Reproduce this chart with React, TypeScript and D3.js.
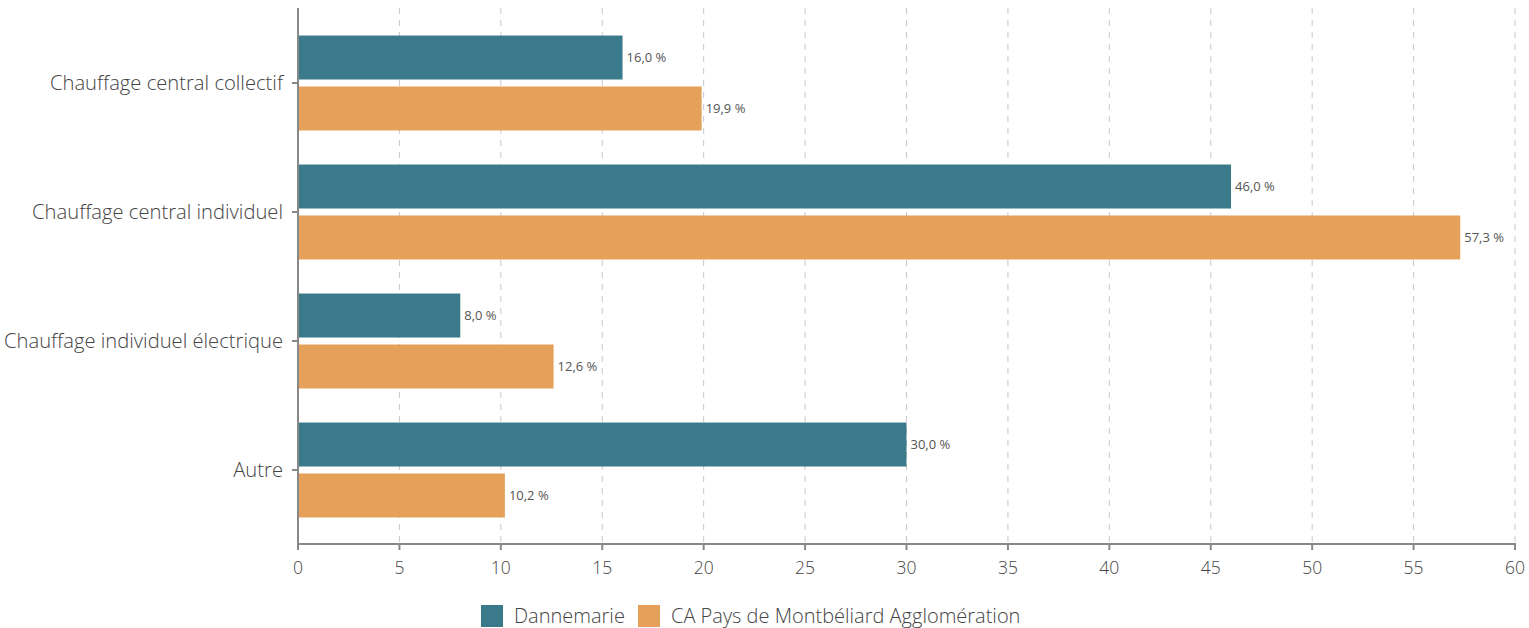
import React from "react";
import * as d3 from "d3";

const categories = [
  "Chauffage central collectif",
  "Chauffage central individuel",
  "Chauffage individuel électrique",
  "Autre",
];
const seriesNames = ["Dannemarie", "CA Pays de Montbéliard Agglomération"];
const dannemarie = [16.0, 46.0, 8.0, 30.0];
const capma = [19.9, 57.3, 12.6, 10.2];
const xTicks = [0, 5, 10, 15, 20, 25, 30, 35, 40, 45, 50, 55, 60];
const colors = ["#3A7A8A", "#E5A05A"];

const W = 1529;
const H = 628;
const FONT = "'Open Sans', 'Noto Sans', sans-serif";

export default function App() {
  const x = d3.scaleLinear().domain([0, 60]).range([298, 1515]);
  const y = d3
    .scaleBand<string>()
    .domain(categories)
    .range([18.5, 534.5])
    .paddingInner(0.264)
    .paddingOuter(0.132);
  const inner = d3
    .scaleBand<string>()
    .domain(seriesNames)
    .range([0, y.bandwidth()])
    .paddingInner(0.137)
    .paddingOuter(0);
  const seriesValues = [dannemarie, capma];
  const fmt = (v: number) => d3.format(".1f")(v).replace(".", ",") + " %";
  const axisY = 544;
  const topY = 8;

  return (
    <svg width={W} height={H} style={{ position: "absolute", left: 0, top: 0 }}>
      {xTicks.slice(1).map((t) => (
        <line
          key={"g" + t}
          x1={x(t)}
          x2={x(t)}
          y1={topY}
          y2={axisY}
          stroke="#c8c8c8"
          strokeWidth={1}
          strokeDasharray="6,6"
        />
      ))}
      {categories.map((c, ci) =>
        seriesNames.map((s, si) => {
          const v = seriesValues[si][ci];
          const by = (y(c) as number) + (inner(s) as number);
          const bh = inner.bandwidth();
          return (
            <g key={c + s}>
              <rect x={x(0)} y={by} width={x(v) - x(0)} height={bh} fill={colors[si]} />
              <text
                x={x(v) + 4}
                y={by + bh / 2}
                dy="0.35em"
                fontSize={13}
                fontWeight={400}
                fill="#555"
                fontFamily={FONT}
              >
                {fmt(v)}
              </text>
            </g>
          );
        })
      )}
      <line x1={x(0)} x2={x(0)} y1={topY} y2={axisY} stroke="#888" strokeWidth={2} />
      {categories.map((c) => {
        const cy = (y(c) as number) + y.bandwidth() / 2;
        return (
          <g key={"yl" + c}>
            <line x1={x(0) - 6} x2={x(0)} y1={cy} y2={cy} stroke="#888" strokeWidth={2} />
            <text
              x={283}
              y={cy}
              dy="0.35em"
              textAnchor="end"
              fontSize={20.2}
              fontWeight={300}
              fill="#444"
              fontFamily={FONT}
            >
              {c}
            </text>
          </g>
        );
      })}
      <line x1={x(0) - 1} x2={x(60) + 1} y1={axisY} y2={axisY} stroke="#888" strokeWidth={2} />
      {xTicks.map((t) => (
        <g key={"xt" + t}>
          <line x1={x(t)} x2={x(t)} y1={axisY} y2={axisY + 6} stroke="#888" strokeWidth={2} />
          <text
            x={x(t)}
            y={574}
            textAnchor="middle"
            fontSize={17.5}
            fontWeight={300}
            fill="#444"
            fontFamily={FONT}
          >
            {t}
          </text>
        </g>
      ))}
      <rect x={481} y={605} width={22} height={22} fill={colors[0]} />
      <text x={514} y={616} dy="0.35em" fontSize={20} fontWeight={300} fill="#444" fontFamily={FONT}>
        {seriesNames[0]}
      </text>
      <rect x={638} y={605} width={22} height={22} fill={colors[1]} />
      <text x={671} y={616} dy="0.35em" fontSize={20} fontWeight={300} fill="#444" fontFamily={FONT}>
        {seriesNames[1]}
      </text>
    </svg>
  );
}
